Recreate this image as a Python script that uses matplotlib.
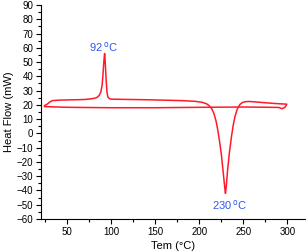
import matplotlib
matplotlib.use("Agg")
import matplotlib.pyplot as plt
from matplotlib.ticker import MultipleLocator

plt.rcParams['font.family'] = ['Liberation Sans', 'DejaVu Sans']

heat_T = [24, 27, 30, 33, 40, 50, 60, 70, 78, 83, 86, 88, 89.5, 90.5, 91.5, 92.3, 93, 94, 95, 96, 98, 100,
          120, 140, 160, 180, 195, 203, 208, 211, 214, 216.5, 219, 221, 223, 225, 227, 228.8, 229.6,
          230.4, 232, 234, 236.5, 238.5, 240.5, 243, 246, 249, 253, 257, 265, 275, 285, 299]
heat_HF = [19.5, 20.5, 22, 23, 23.3, 23.5, 23.6, 23.8, 24.3, 25, 26.5, 29, 34, 42, 51, 56, 50, 38, 29, 25.5, 24.3, 24,
           23.8, 23.6, 23.3, 23, 22.5, 21.8, 20.8, 19.5, 17.3, 14, 8.5, 2, -6, -15, -27, -38, -42,
           -38, -26, -14, -2, 6, 12, 17, 20.3, 21.7, 22.3, 22.4, 22, 21.5, 21, 20.5]
cool_T = [299, 297, 294, 290, 270, 250, 200, 150, 100, 50, 24]
cool_HF = [20, 18.2, 17.3, 18.2, 18.4, 18.5, 18.3, 18, 18, 18.3, 18.8]

fig = plt.figure(figsize=(3.07, 2.52), dpi=100)
ax = fig.add_axes([0.1335, 0.131, 0.86, 0.849])
red = '#ff1a2a'
ax.plot(heat_T, heat_HF, color=red, lw=1.1)
ax.plot(cool_T, cool_HF, color=red, lw=1.1)

ax.set_xlim(20, 320)
ax.set_ylim(-60, 90)
ax.xaxis.set_major_locator(MultipleLocator(50))
ax.xaxis.set_minor_locator(MultipleLocator(25))
ax.yaxis.set_major_locator(MultipleLocator(10))
ax.yaxis.set_minor_locator(MultipleLocator(5))
ax.spines['top'].set_visible(False)
ax.spines['right'].set_visible(False)
ax.tick_params(which='major', direction='out', length=3.5, width=0.8, labelsize=7, pad=2)
ax.tick_params(which='minor', direction='out', length=2, width=0.8)
ax.set_xlabel('Tem (°C)', fontsize=8, labelpad=3)
ax.set_ylabel('Heat Flow (mW)', fontsize=8, labelpad=2)

blue = '#3355ee'
ax.text(91, 56, r'92$\,^{\mathrm{o}}$C', color=blue, fontsize=8, ha='center', va='bottom')
ax.text(234, -45, r'230$\,^{\mathrm{o}}$C', color=blue, fontsize=8, ha='center', va='top')

fig.savefig('out.png', dpi=100)
